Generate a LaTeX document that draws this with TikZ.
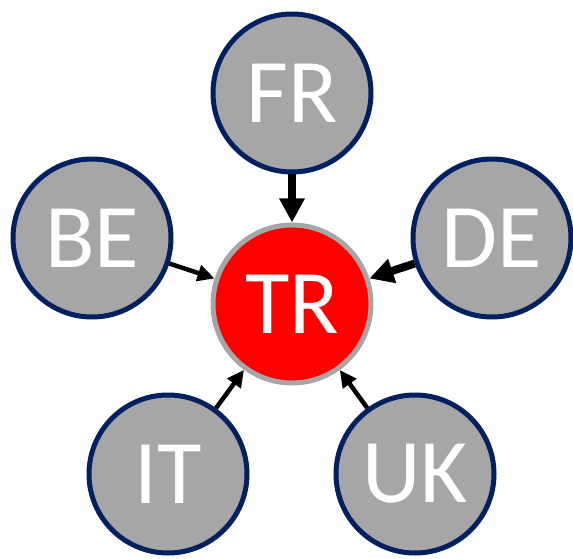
\documentclass[tikz,border=0pt]{standalone}
\usepackage{fontspec}
\setmainfont{Carlito}
\usetikzlibrary{arrows.meta}
\definecolor{navy}{HTML}{002060}
\definecolor{cgray}{HTML}{A6A6A6}
\definecolor{cred}{HTML}{FF0000}
\begin{document}
\begin{tikzpicture}[x=1pt,y=1pt,
  country/.style={circle, draw=navy, line width=5pt, fill=cgray, minimum size=158pt, inner sep=0pt, text=white, font=\fontsize{91}{91}\selectfont},
  center/.style={circle, draw=cgray, line width=5pt, fill=cred, minimum size=158pt, inner sep=0pt, text=white, font=\fontsize{91}{91}\selectfont},
  thickflow/.style={line width=8pt, -{Triangle[length=24pt,width=24pt]}},
  thinflow/.style={line width=4.5pt, -{Triangle[length=17pt,width=16pt]}}]
\useasboundingbox (0,0) rectangle (573,558);
\node[center] (TR) at (292,254) {TR};
\node[country] (FR) at (292,465) {FR};
\node[country] (BE) at (92,320) {BE};
\node[country] (DE) at (492,320) {DE};
\node[country] (IT) at (168,84) {IT};
\node[country] (UK) at (415,84) {UK};
\draw[thickflow] (FR) -- (TR);
\draw[thickflow] (DE) -- (TR);
\draw[thinflow] (BE) -- (TR);
\draw[thinflow] (IT) -- (TR);
\draw[thinflow] (UK) -- (TR);
\end{tikzpicture}
\end{document}
